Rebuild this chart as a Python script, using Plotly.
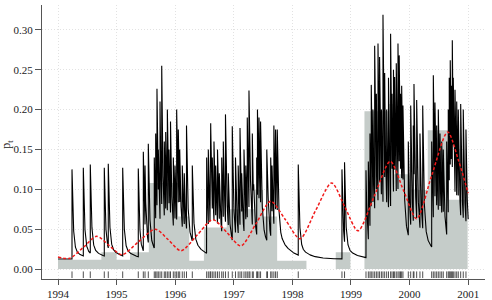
import numpy as np
import plotly.graph_objects as go

# ---------------- data ----------------
event_years = [
    1994.239, 1994.432, 1994.551, 1994.790, 1994.858, 1995.104, 1995.370,
    1995.456, 1995.485, 1995.541, 1995.643, 1995.667, 1995.689, 1995.712,
    1995.741, 1995.770, 1995.814, 1995.838, 1995.866, 1995.894, 1995.920,
    1995.968, 1995.997, 1996.025, 1996.053, 1996.077, 1996.121, 1996.155,
    1996.193, 1996.292,
    1996.537, 1996.565, 1996.594, 1996.606, 1996.633, 1996.662, 1996.691,
    1996.722, 1996.753, 1996.794, 1996.821, 1996.858, 1996.906, 1996.974,
    1997.029, 1997.075, 1997.106, 1997.135, 1997.174, 1997.205, 1997.230,
    1997.259, 1997.276, 1997.316, 1997.333, 1997.391, 1997.404, 1997.430,
    1997.457, 1997.563, 1997.575, 1997.630, 1997.652, 1997.684, 1997.713,
    1997.742,
    1998.100, 1998.846, 1998.890,
    1999.256, 1999.296, 1999.324, 1999.346, 1999.375, 1999.404, 1999.433,
    1999.461, 1999.488, 1999.519, 1999.546, 1999.575, 1999.609, 1999.640,
    1999.676, 1999.700, 1999.725, 1999.745, 1999.773, 1999.802, 1999.823,
    1999.845, 1999.865, 1999.887,
    1999.978, 2000.019, 2000.063, 2000.075, 2000.121, 2000.177, 2000.224,
    2000.377, 2000.405, 2000.433, 2000.462, 2000.490, 2000.519, 2000.548,
    2000.575, 2000.633, 2000.660, 2000.677, 2000.694, 2000.712, 2000.729,
    2000.746, 2000.775, 2000.804, 2000.831, 2000.872, 2000.916, 2000.962,
]
event_peaks = [
    0.125, 0.127, 0.131, 0.127, 0.132, 0.127, 0.126,
    0.147, 0.130, 0.157, 0.140, 0.170, 0.226, 0.150,
    0.210, 0.255, 0.160, 0.172, 0.200, 0.150, 0.185,
    0.140, 0.130, 0.200, 0.175, 0.150, 0.130, 0.120,
    0.180, 0.130,
    0.140, 0.150, 0.130, 0.183, 0.140, 0.160, 0.130,
    0.150, 0.120, 0.140, 0.160, 0.194, 0.120, 0.179,
    0.140, 0.130, 0.177, 0.120, 0.150, 0.130, 0.190,
    0.224, 0.150, 0.170, 0.130, 0.140, 0.200, 0.190,
    0.185, 0.150, 0.130, 0.140, 0.130, 0.180, 0.175,
    0.175,
    0.131, 0.125, 0.134,
    0.124, 0.135, 0.170, 0.231, 0.200, 0.280, 0.220,
    0.283, 0.266, 0.200, 0.319, 0.246, 0.200, 0.240,
    0.295, 0.220, 0.250, 0.241, 0.258, 0.283, 0.268,
    0.220, 0.230, 0.205,
    0.160, 0.205, 0.180, 0.232, 0.212, 0.170, 0.205,
    0.160, 0.243, 0.209, 0.180, 0.200, 0.170, 0.160,
    0.150, 0.160, 0.200, 0.240, 0.262, 0.230, 0.287,
    0.240, 0.225, 0.210, 0.200, 0.207, 0.200, 0.175,
]
baseline_level = 0.0125

seasonal_years = [1994.00, 1994.20, 1994.43, 1994.66, 1994.88, 1995.09, 1995.37,
                  1995.66, 1995.88, 1996.10, 1996.38, 1996.64, 1996.88, 1997.12,
                  1997.38, 1997.63, 1997.88, 1998.13, 1998.40, 1998.67, 1998.90,
                  1999.12, 1999.40, 1999.67, 1999.90, 2000.12, 2000.38, 2000.65,
                  2000.84, 2001.00]
seasonal_values = [0.015, 0.0135, 0.027, 0.041, 0.029, 0.018, 0.034,
                   0.050, 0.037, 0.023, 0.043, 0.062, 0.046, 0.029,
                   0.057, 0.085, 0.062, 0.038, 0.074, 0.108, 0.077,
                   0.048, 0.092, 0.135, 0.098, 0.063, 0.118, 0.172,
                   0.135, 0.095]

gray_edges = [1994.00, 1994.74, 1995.00, 1995.23, 1995.55, 1996.05, 1996.24,
              1996.49, 1996.88, 1997.35, 1997.50, 1997.74, 1998.24, 1998.74,
              1998.99, 1999.23, 1999.65, 1999.74, 2000.00, 2000.31, 2000.67,
              2000.99]
gray_values = [0.0115, 0.021, 0.0115, 0.021, 0.108, 0.066, 0.0105,
               0.052, 0.075, 0.099, 0.066, 0.0105, 0.0, 0.021,
               0.0, 0.198, 0.207, 0.119, 0.099, 0.174, 0.087]

year_ticks = [1994, 1995, 1996, 1997, 1998, 1999, 2000, 2001]
p_ticks = [0.00, 0.05, 0.10, 0.15, 0.20, 0.25, 0.30]

# ---------------- intensity line built from the events ----------------
# each event lifts the level to its read peak; a fast part decays after the
# latest event, a small slow part accumulates over clusters of events
def fast_kernel(d):
    return 0.9 * np.exp(-50.0 * d) + 0.1 * np.exp(-8.0 * d)

SLOW_STEP, SLOW_RATE = 0.004, 5.0

ev = np.array(event_years)
pk = np.array(event_peaks)
grid = np.arange(1994.0, 2001.0 + 1e-9, 0.0005)
t = np.sort(np.concatenate([grid, ev - 1e-7, ev]))

def slow_part(times):
    d = times[:, None] - ev[None, :]
    return np.where(d >= 0, SLOW_STEP * np.exp(-SLOW_RATE * np.clip(d, 0, None)), 0.0).sum(axis=1)

slow_at_ev = slow_part(ev)
fast_amp = np.maximum(pk - baseline_level - slow_at_ev, 0.02)

idx = np.searchsorted(ev, t, side="right") - 1
fast = np.zeros_like(t)
has = idx >= 0
fast[has] = fast_amp[idx[has]] * fast_kernel(t[has] - ev[idx[has]])
lam = baseline_level + slow_part(t) + fast

# rug
rug_x, rug_y = [], []
for e in event_years:
    rug_x += [e, e, None]
    rug_y += [-0.0030, -0.0113, None]

gx = list(gray_edges)
gy = list(gray_values) + [gray_values[-1]]

FONT = "Liberation Serif, Times New Roman, serif"
fig = go.Figure()
fig.add_trace(go.Scatter(x=gx, y=gy, mode="lines", line=dict(width=0, shape="hv"),
                         fill="tozeroy", fillcolor="#c5ccc9", hoverinfo="skip"))
fig.add_trace(go.Scatter(x=t, y=lam, mode="lines",
                         line=dict(color="black", width=1.1)))
fig.add_trace(go.Scatter(x=seasonal_years, y=seasonal_values, mode="lines",
                         line=dict(color="#f01818", width=1.5, dash="3px,2px",
                                   shape="spline", smoothing=0.8)))
fig.add_trace(go.Scatter(x=rug_x, y=rug_y, mode="lines",
                         line=dict(color="#222222", width=0.8)))

fig.update_layout(
    width=492, height=300,
    margin=dict(l=42, r=7, t=5, b=21, autoexpand=False),
    paper_bgcolor="white", plot_bgcolor="white",
    showlegend=False,
    font=dict(family=FONT, size=11, color="#1a1a1a"),
    xaxis=dict(range=[1993.727, 2001.287], tickvals=year_ticks,
               ticktext=[str(y) for y in year_ticks], automargin=False,
               showgrid=True, gridcolor="#e2e2e2", griddash="1px,2px", gridwidth=1,
               showline=True, linecolor="#555555", linewidth=1,
               ticks="outside", ticklen=5, tickcolor="#555555",
               zeroline=False),
    yaxis=dict(range=[-0.0125, 0.3312], tickvals=p_ticks,
               ticktext=["%.2f" % v for v in p_ticks], automargin=False,
               showgrid=True, gridcolor="#e2e2e2", griddash="1px,2px", gridwidth=1,
               showline=True, linecolor="#555555", linewidth=1,
               ticks="outside", ticklen=6, tickcolor="#555555",
               zeroline=False),
    annotations=[dict(text="p<sub>t</sub>", xref="paper", yref="paper",
                      x=-0.079, y=0.49, showarrow=False, textangle=-90,
                      font=dict(family=FONT, size=12, color="#1a1a1a"),
                      xanchor="center", yanchor="middle")],
)
fig.write_html("out.html", config={"displayModeBar": False},
               post_script="document.body.style.margin='0';document.body.style.overflow='hidden';")
